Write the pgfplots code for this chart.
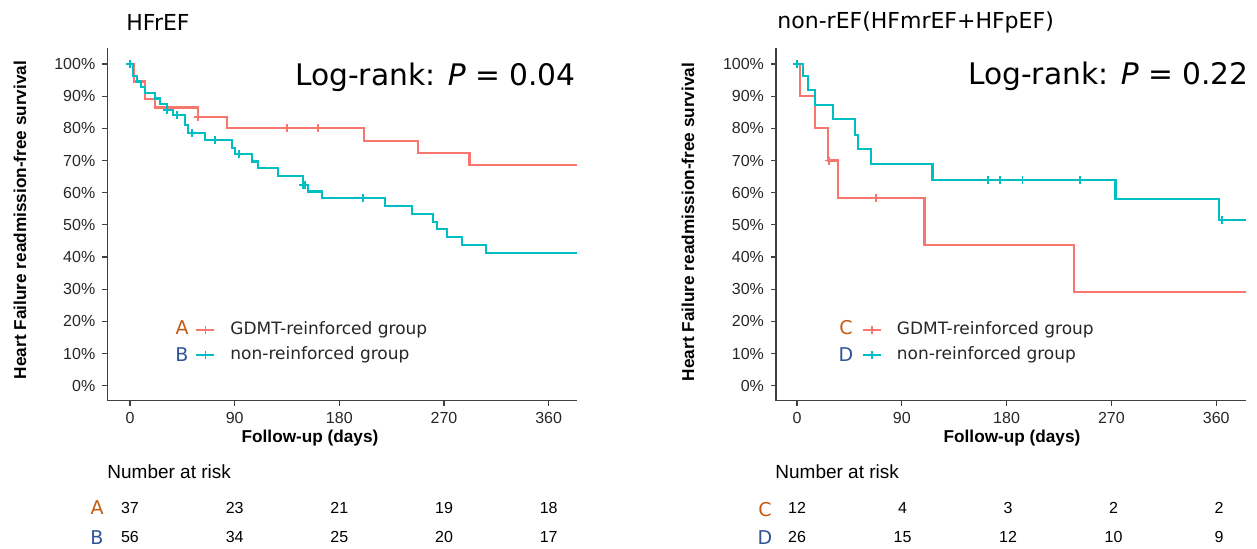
\documentclass[border=0pt]{standalone}
\usepackage{pgfplots}
\pgfplotsset{compat=1.18}
\usepackage{fontspec}
\setmainfont{Liberation Sans}
\newfontfamily\djv{DejaVu Sans}
\definecolor{kmred}{HTML}{F8766D}
\definecolor{kmcyan}{HTML}{00BFC4}
\definecolor{letorange}{HTML}{C55A11}
\definecolor{letblue}{HTML}{2F5597}
\pgfplotsset{
  kmaxis/.style={
    scale only axis, width=235pt, height=176.35pt,
    ymin=-4.67, ymax=105,
    axis lines*=left, axis line style={-, line width=0.8pt, black!75},
    xtick={0,90,180,270,360}, ytick={0,10,...,100},
    yticklabel={\pgfmathprintnumber{\tick}\%},
    tick align=outside, major tick length=2.5pt,
    tick style={line width=0.6pt, black!75},
    ticklabel style={font=\fontsize{8}{9}\selectfont, text=black!85},
    /pgf/number format/assume math mode=true,
    legend cell align=left,
    legend image code/.code={\draw[##1, mark repeat=2, mark phase=2] plot coordinates {(0pt,0pt) (4.5pt,0pt) (9pt,0pt)};},
    legend style={anchor=north west, draw=none, fill=none, inner sep=0pt,
      font=\djv\fontsize{8.5}{10}\selectfont, text=black!85, row sep=4pt,
      nodes={inner sep=0pt, text height=6.5pt, text depth=2pt},
      /tikz/every odd column/.append style={column sep=7.5pt}},
  },
  kmline/.style={line width=1.1pt, const plot, mark=none, forget plot},
  kmcens/.style={only marks, mark=+, mark size=2pt, mark options={line width=0.9pt}, forget plot},
}
\begin{document}
\begin{tikzpicture}
\path[use as bounding box] (0,0) rectangle (628.5pt,274.5pt);
% ---------- left panel ----------
\begin{axis}[kmaxis, at={(53.65pt,74.15pt)}, anchor=south west, xmin=-19.5, xmax=384.6,
  legend style={at={(0.1866,0.226)}}]
\addplot[kmred, kmline] coordinates {(0,100) (3.7,94.6) (12.9,89.2) (21.5,86.5) (58.2,83.6) (83.1,80.0) (201.5,76.2) (247.3,72.4) (291.9,68.6) (384.6,68.6)};
\addplot[kmcyan, kmline] coordinates {(0,100) (2.9,96.4) (5.7,94.6) (9.5,92.9) (12.9,91.1) (21.5,89.3) (25.8,87.5) (31.5,85.7) (37,84.2) (47.3,81.1) (49.6,78.5) (64.5,76.4) (87.4,73.9) (90.3,72.0) (104.6,69.7) (110.3,67.6) (127,65.2) (148.5,62.4) (153.3,60.4) (164.8,58.3) (219.3,55.8) (242.2,53.4) (260.8,51.0) (264.3,48.7) (272.8,46.2) (285.2,43.8) (305.8,41.3) (384.6,41.3)};
\addplot[kmred, kmcens] coordinates {(58.8,83.6) (134.7,80.0) (161.9,80.0)};
\addplot[kmcyan, kmcens] coordinates {(0,100) (31.8,85.7) (40.1,84.2) (53.6,78.5) (73.1,76.4) (93.7,72.0) (148.8,62.4) (150.8,62.4) (200.6,58.3)};
\addlegendimage{kmred, line width=1pt, mark=+, mark size=2pt, mark options={line width=0.9pt}}
\addlegendentry{GDMT-reinforced group}
\addlegendimage{kmcyan, line width=1pt, mark=+, mark size=2pt, mark options={line width=0.9pt}}
\addlegendentry{non-reinforced group}
\end{axis}
% ---------- right panel ----------
\begin{axis}[kmaxis, at={(388pt,74.15pt)}, anchor=south west, xmin=-18, xmax=385.6,
  legend style={at={(0.1818,0.226)}}]
\addplot[kmred, kmline] coordinates {(0,100) (2.6,90) (15.4,80) (26.7,70) (35.3,58.3) (109.5,43.75) (238,29.2) (385.6,29.2)};
\addplot[kmcyan, kmline] coordinates {(0,100) (5.4,96.4) (9.7,92.0) (15.4,87.3) (30.6,82.9) (49.5,78.0) (52.3,73.5) (63.9,68.9) (116.3,64.0) (273.6,58.0) (362.6,51.6) (385.6,51.6)};
\addplot[kmred, kmcens] coordinates {(27.6,70) (68,58.3)};
\addplot[kmcyan, kmcens] coordinates {(0,100) (163.8,64.0) (174.1,64.0) (193.7,64.0) (242.9,64.0) (365.2,51.6)};
\addlegendimage{kmred, line width=1pt, mark=+, mark size=2pt, mark options={line width=0.9pt}}
\addlegendentry{GDMT-reinforced group}
\addlegendimage{kmcyan, line width=1pt, mark=+, mark size=2pt, mark options={line width=0.9pt}}
\addlegendentry{non-reinforced group}
\end{axis}
% ---------- texts (pixel coordinates, y downward) ----------
\begin{scope}[x=0.5pt, y=-0.5pt, shift={(0pt,274.5pt)}]
\node[anchor=west, inner sep=0pt, font=\djv\fontsize{11}{13}\selectfont] at (126,22) {HFrEF};
\node[anchor=west, inner sep=0pt, font=\djv\fontsize{11}{13}\selectfont] at (777,22) {non-rEF(HFmrEF+HFpEF)};
\node[anchor=east, inner sep=0pt, font=\djv\fontsize{14.85}{17}\selectfont] at (576,77) {Log-rank: \textit{P} = 0.04};
\node[anchor=east, inner sep=0pt, font=\djv\fontsize{14.85}{17}\selectfont] at (1249,76) {Log-rank: \textit{P} = 0.22};
\node[rotate=90, font=\bfseries\fontsize{8.6}{10}\selectfont] at (20,220) {Heart Failure readmission-free survival};
\node[rotate=90, font=\bfseries\fontsize{8.6}{10}\selectfont] at (688,222) {Heart Failure readmission-free survival};
\node[font=\bfseries\fontsize{8.6}{10}\selectfont] at (310,438) {Follow-up (days)};
\node[font=\bfseries\fontsize{8.6}{10}\selectfont] at (1012,438) {Follow-up (days)};
% legend letters
\node[inner sep=0pt, font=\djv\fontsize{9.5}{11}\selectfont, text=letorange] at (182,328) {A};
\node[inner sep=0pt, font=\djv\fontsize{9.5}{11}\selectfont, text=letblue] at (182,355) {B};
\node[inner sep=0pt, font=\djv\fontsize{9.5}{11}\selectfont, text=letorange] at (846,328) {C};
\node[inner sep=0pt, font=\djv\fontsize{9.5}{11}\selectfont, text=letblue] at (846,355) {D};
% number at risk
\node[anchor=west, inner sep=0pt, font=\fontsize{9.5}{11}\selectfont] at (107,472) {Number at risk};
\node[anchor=west, inner sep=0pt, font=\fontsize{9.5}{11}\selectfont] at (775,472) {Number at risk};
\node[inner sep=0pt, font=\djv\fontsize{9.5}{11}\selectfont, text=letorange] at (97,508) {A};
\node[inner sep=0pt, font=\djv\fontsize{9.5}{11}\selectfont, text=letblue] at (97,538) {B};
\node[inner sep=0pt, font=\djv\fontsize{9.5}{11}\selectfont, text=letorange] at (765,510) {C};
\node[inner sep=0pt, font=\djv\fontsize{9.5}{11}\selectfont, text=letblue] at (765,538) {D};
\foreach \xx/\va/\vb in {130/37/56, 234.7/23/34, 339.3/21/25, 444/19/20, 548.7/18/17}{
  \node[inner sep=0pt, font=\fontsize{8}{9}\selectfont] at (\xx,508) {\va};
  \node[inner sep=0pt, font=\fontsize{8}{9}\selectfont] at (\xx,537) {\vb};
}
\foreach \xx/\va/\vb in {797/12/26, 902.5/4/15, 1008/3/12, 1113.5/2/10, 1219/2/9}{
  \node[inner sep=0pt, font=\fontsize{8}{9}\selectfont] at (\xx,508) {\va};
  \node[inner sep=0pt, font=\fontsize{8}{9}\selectfont] at (\xx,537) {\vb};
}
\end{scope}
\end{tikzpicture}
\end{document}
